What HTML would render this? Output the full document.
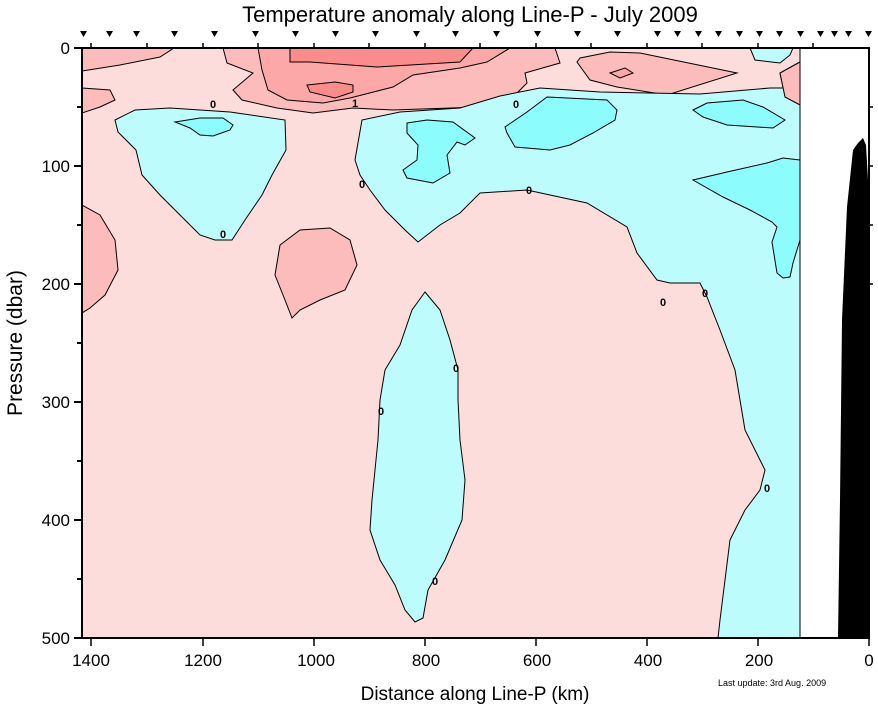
<!DOCTYPE html>
<html><head><meta charset="utf-8"><style>body{margin:0;background:#fff}svg{display:block}text{font-family:"Liberation Sans",sans-serif}</style></head><body>
<svg width="878" height="708" viewBox="0 0 878 708" xmlns="http://www.w3.org/2000/svg">
<defs><clipPath id="c"><rect x="82" y="48" width="718" height="590"/></clipPath></defs>
<rect x="82" y="48" width="718" height="590" fill="#fddcdc"/>
<g clip-path="url(#c)" stroke="#000" stroke-width="1">
<!-- pink2 -->
<g fill="#fdbcbc">
<polygon points="82,48 174,48 160,57 120,65 82,71"/>
<polygon points="82,88 110,90 115,100 100,107 82,113"/>
<polygon points="82,205 100,215 115,240 118,270 105,295 90,308 82,313"/>
<polygon points="280,245 300,230 330,228 350,240 357,265 345,290 320,300 300,310 292,318 285,300 275,275"/>
<polygon points="223,48 227,63 253,73 233,90 242,100 277,108 313,113 353,108 393,110 480,107 493,100 517,93 527,83 525,73 560,63 555,48"/>
<polygon points="580,58 577,62 590,80 617,87 667,95 737,73 640,53 610,52"/>
<polygon points="800,62 780,73 785,97 800,105"/>
</g>
<polygon fill="#fca8a8" points="258,48 262,70 268,90 287,100 323,103 350,98 393,87 413,75 460,68 487,62 510,48"/>
<polygon fill="#fca8a8" points="610,73 625,68 633,73 620,78"/>
<polygon fill="#fa8c8c" points="290,48 290,62 310,62 377,67 460,62 473,48"/>
<polygon fill="#fa8c8c" points="307,85 335,82 353,85 353,92 335,98 310,92"/>
<!-- cyan1 -->
<g fill="#bdfcfc">
<polygon points="115,120 135,110 170,108 230,112 285,120 286,150 272,175 262,195 245,220 232,240 215,240 200,235 185,220 160,195 142,175 136,150 118,132"/>
<polygon points="355,160 362,120 400,112 460,108 500,96 540,88 600,92 700,94 770,88 790,88 800,100 800,638 718,638 720,620 725,580 730,540 745,510 760,490 765,470 745,430 740,400 735,370 720,330 707,297 700,283 670,283 657,280 637,253 627,227 587,203 527,190 480,193 460,213 440,225 418,242 405,230 385,210 370,190 360,175"/>
<polygon points="750,48 755,60 780,63 790,55 793,48"/>
<polygon points="425,292 412,310 400,345 385,370 380,400 378,440 375,470 372,500 370,530 380,560 395,585 405,610 415,622 423,618 428,590 445,560 462,520 465,480 460,440 458,400 458,370 450,340 440,310"/>
</g>
<polygon fill="#fdbcbc" points="800,62 780,73 785,97 800,105"/>
<!-- cyan2 -->
<g fill="#8dfcfc">
<polygon points="175,122 200,118 223,118 233,125 230,130 213,136 200,135 190,128"/>
<polygon points="407,123 427,120 453,122 475,138 465,145 457,142 447,155 450,173 433,183 407,178 403,170 417,160 418,145 407,133"/>
<polygon points="547,97 607,100 617,110 615,120 593,133 570,145 550,150 515,147 507,133 505,127 527,112"/>
<polygon points="693,110 707,103 743,100 763,107 785,120 773,128 727,125 703,117"/>
<polygon points="693,180 727,172 767,163 783,158 800,160 800,240 793,263 790,277 783,278 777,273 772,242 777,227 772,222 750,210 723,197"/>
</g>
</g>
<rect x="800" y="48" width="69" height="590" fill="#fff"/>
<line x1="800" y1="48" x2="800" y2="638" stroke="#000"/>
<polygon fill="#000" points="838,638 840,500 842,320 847,207 853,150 858,143 863,138 866,145 868,180 869,638"/>
<rect x="82" y="48" width="787" height="590" fill="none" stroke="#000" stroke-width="2"/>
<g stroke="#000" stroke-width="2">
<line x1="74" y1="48" x2="82" y2="48"/><line x1="74" y1="166" x2="82" y2="166"/><line x1="74" y1="284" x2="82" y2="284"/><line x1="74" y1="402" x2="82" y2="402"/><line x1="74" y1="520" x2="82" y2="520"/><line x1="74" y1="638" x2="82" y2="638"/>
<line x1="77" y1="107" x2="82" y2="107"/><line x1="77" y1="225" x2="82" y2="225"/><line x1="77" y1="343" x2="82" y2="343"/><line x1="77" y1="461" x2="82" y2="461"/><line x1="77" y1="579" x2="82" y2="579"/>
</g>
<g stroke="#000" stroke-width="1.5">
<line x1="91" y1="638" x2="91" y2="646"/><line x1="203" y1="638" x2="203" y2="646"/><line x1="314" y1="638" x2="314" y2="646"/><line x1="425" y1="638" x2="425" y2="646"/><line x1="536" y1="638" x2="536" y2="646"/><line x1="647" y1="638" x2="647" y2="646"/><line x1="758" y1="638" x2="758" y2="646"/><line x1="869" y1="638" x2="869" y2="646"/>
<line x1="91" y1="48" x2="91" y2="43"/><line x1="147" y1="48" x2="147" y2="43"/><line x1="203" y1="48" x2="203" y2="43"/><line x1="258" y1="48" x2="258" y2="43"/><line x1="314" y1="48" x2="314" y2="43"/><line x1="369" y1="48" x2="369" y2="43"/><line x1="425" y1="48" x2="425" y2="43"/><line x1="480" y1="48" x2="480" y2="43"/><line x1="536" y1="48" x2="536" y2="43"/><line x1="591" y1="48" x2="591" y2="43"/><line x1="647" y1="48" x2="647" y2="43"/><line x1="702" y1="48" x2="702" y2="43"/><line x1="758" y1="48" x2="758" y2="43"/><line x1="813" y1="48" x2="813" y2="43"/>
<line x1="869" y1="107" x2="873" y2="107"/><line x1="869" y1="166" x2="873" y2="166"/><line x1="869" y1="225" x2="873" y2="225"/><line x1="869" y1="284" x2="873" y2="284"/>
</g>
<g fill="#000">
<path d="M80,31h7l-3.5,6z M106,31h7l-3.5,6z M133,31h7l-3.5,6z M171,31h7l-3.5,6z M211,31h7l-3.5,6z M252,31h7l-3.5,6z M292,31h7l-3.5,6z M332,31h7l-3.5,6z M372,31h7l-3.5,6z M413,31h7l-3.5,6z M452,31h7l-3.5,6z M493,31h7l-3.5,6z M534,31h7l-3.5,6z M574,31h7l-3.5,6z M614,31h7l-3.5,6z M654,31h7l-3.5,6z M674,31h7l-3.5,6z M695,31h7l-3.5,6z M715,31h7l-3.5,6z M736,31h7l-3.5,6z M756,31h7l-3.5,6z M776,31h7l-3.5,6z M797,31h7l-3.5,6z M817,31h7l-3.5,6z M831,31h7l-3.5,6z M845,31h7l-3.5,6z M865,31h7l-3.5,6z"/>
</g>
<g font-size="11" font-weight="bold" fill="#000" text-anchor="middle">
<text x="213" y="108">0</text><text x="362" y="188">0</text><text x="223" y="238">0</text><text x="516" y="108">0</text><text x="529" y="194">0</text><text x="663" y="306">0</text><text x="705" y="297">0</text><text x="456" y="372">0</text><text x="381" y="415">0</text><text x="767" y="492">0</text><text x="435" y="585">0</text><text x="355" y="107">1</text>
</g>
<text x="470" y="22" font-size="22" text-anchor="middle">Temperature anomaly along Line-P - July 2009</text>
<g font-size="17" text-anchor="end">
<text x="70" y="54">0</text><text x="70" y="172">100</text><text x="70" y="290">200</text><text x="70" y="408">300</text><text x="70" y="526">400</text><text x="70" y="644">500</text>
</g>
<g font-size="17" text-anchor="middle">
<text x="91" y="666">1400</text><text x="203" y="666">1200</text><text x="316" y="666">1000</text><text x="426" y="666">800</text><text x="537" y="666">600</text><text x="648" y="666">400</text><text x="759" y="666">200</text><text x="869" y="666">0</text>
</g>
<text x="475" y="700" font-size="19" text-anchor="middle">Distance along Line-P (km)</text>
<text transform="translate(22,343) rotate(-90)" font-size="21" text-anchor="middle">Pressure (dbar)</text>
<text x="718" y="686" font-size="9">Last update: 3rd Aug. 2009</text>
</svg>
</body></html>
